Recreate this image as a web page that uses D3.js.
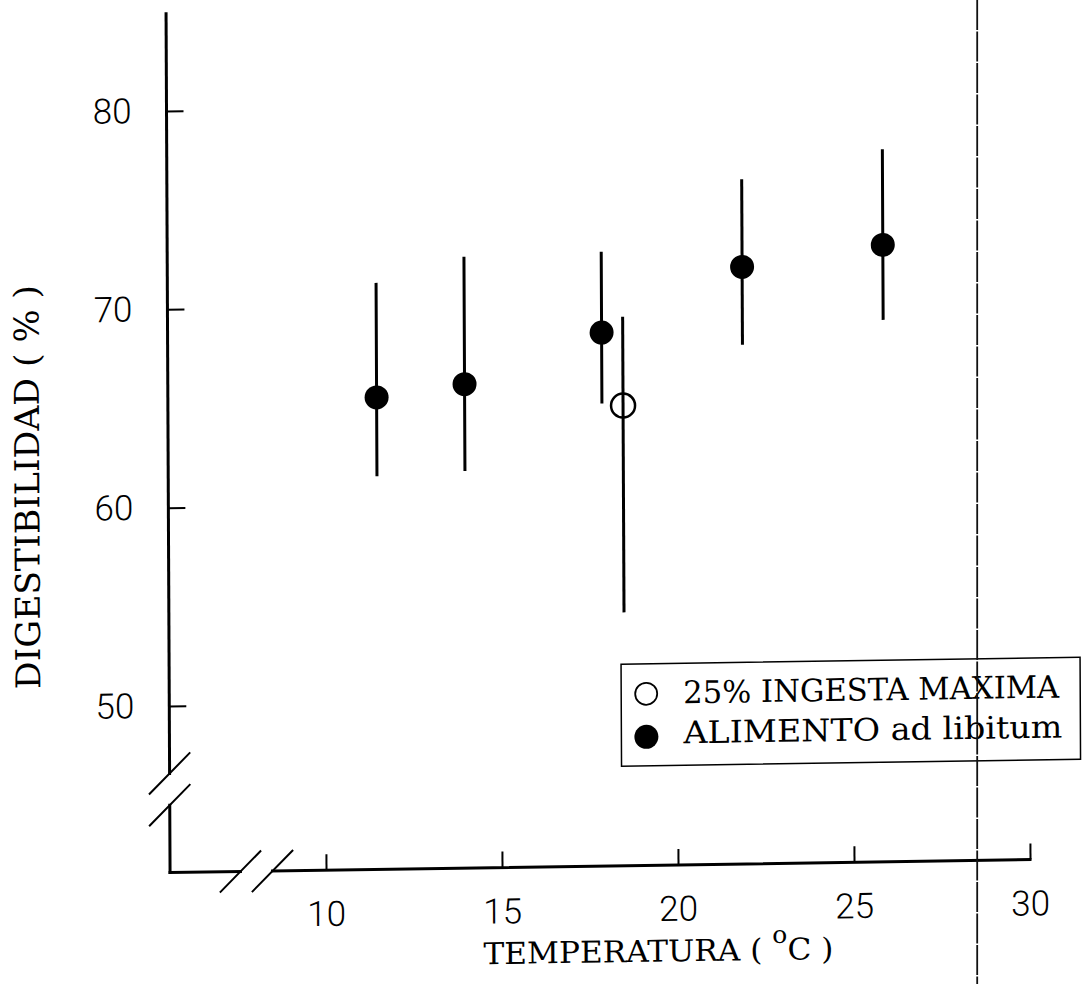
<!DOCTYPE html>
<html>
<head>
<meta charset="utf-8">
<script src="https://cdn.jsdelivr.net/npm/d3@7"></script>
<style>
  html, body { margin: 0; padding: 0; background: #fff; }
  svg { display: block; }
</style>
</head>
<body>
<svg id="chart" width="1082" height="984"></svg>
<script>
// --- data ---
const temps      = [11.5, 14.0, 17.9, 21.9, 25.9];
const adLib      = [65.4, 66.0, 68.5, 71.7, 72.7];
const adLibLow   = [61.5, 61.7, 65.0, 67.85, 69.0];
const adLibHigh  = [71.1, 72.35, 72.5, 76.05, 77.45];

const restrTemps = [18.5];
const restr      = [64.8];
const restrLow   = [54.45];
const restrHigh  = [69.2];

const xTicks = [10, 15, 20, 25, 30];
const yTicks = [50, 60, 70, 80];
const legendLabels = ["25% INGESTA MAXIMA", "ALIMENTO ad libitum"];

// axis extents (in data units) and break positions
const X_MIN = 5.57, X_MAX = 30;
const Y_MIN = 41.6, Y_MAX = 84.9;
const X_BREAK = [7.57, 8.48];
const Y_BREAK = [46.6, 45.0];
const FOLD_T = 28.5;   // vertical line crossing the page

const W = 1082, H = 984;
const PT_R = 12;
const AXIS_W = 3, BAR_W = 3, TICK_W = 2;
const NUM_FONT = "Roboto, 'Liberation Sans', sans-serif";
const SERIF = "'DejaVu Serif', 'Liberation Serif', serif";

const x = d3.scaleLinear().domain([10, 30]).range([326, 1030]);
const y = d3.scaleLinear().domain([50, 80]).range([706, 111]);

const svg = d3.select("#chart");
svg.append("rect").attr("width", W).attr("height", H).attr("fill", "#fff");

// the scan is slightly skewed; whole plot sits in a skewed group
const g = svg.append("g")
    .attr("transform", "matrix(1,-0.0151,0.00466,1,-4.07,2.57)");

function line(x1, y1, x2, y2, w) {
    g.append("line")
        .attr("x1", x1).attr("y1", y1)
        .attr("x2", x2).attr("y2", y2)
        .attr("stroke", "#000")
        .attr("stroke-width", w)
        .attr("stroke-linecap", "square");
}

// y axis, with break
const x0 = x(X_MIN), yb = y(Y_MIN);
line(x0, y(Y_MAX), x0, y(Y_BREAK[0]), AXIS_W);
line(x0, y(Y_BREAK[1]), x0, yb, AXIS_W);
Y_BREAK.forEach(v => line(x0 - 20, y(v) + 20, x0 + 20, y(v) - 20, 2));

// x axis, with break
line(x0, yb, x(X_BREAK[0]), yb, AXIS_W);
line(x(X_BREAK[1]), yb, x(X_MAX), yb, AXIS_W);
X_BREAK.forEach(v => line(x(v) - 20, yb + 20, x(v) + 20, yb - 20, 2));

// ticks + labels via d3 axes (domain path removed)
const yAxis = g.append("g")
    .attr("transform", `translate(${x0},0)`)
    .call(d3.axisLeft(y).tickValues(yTicks).tickSize(-17).tickPadding(35));
const xAxis = g.append("g")
    .attr("transform", `translate(0,${yb})`)
    .call(d3.axisBottom(x).tickValues(xTicks).tickSize(-16).tickPadding(31));

[yAxis, xAxis].forEach(a => {
    a.select(".domain").remove();
    a.selectAll(".tick line").attr("stroke", "#000").attr("stroke-width", TICK_W);
    a.selectAll(".tick text")
        .attr("fill", "#000")
        .attr("font-family", NUM_FONT)
        .attr("font-weight", 300)
        .attr("font-size", 35);
});

// error bars
temps.forEach((t, i) => line(x(t), y(adLibLow[i]), x(t), y(adLibHigh[i]), BAR_W));
restrTemps.forEach((t, i) => line(x(t), y(restrLow[i]), x(t), y(restrHigh[i]), BAR_W));

// points
g.selectAll("circle.adlib")
    .data(temps)
    .join("circle")
    .attr("class", "adlib")
    .attr("cx", d => x(d))
    .attr("cy", (d, i) => y(adLib[i]))
    .attr("r", PT_R)
    .attr("fill", "#000");

g.selectAll("circle.restr")
    .data(restrTemps)
    .join("circle")
    .attr("class", "restr")
    .attr("cx", d => x(d))
    .attr("cy", (d, i) => y(restr[i]))
    .attr("r", PT_R)
    .attr("fill", "none")
    .attr("stroke", "#000")
    .attr("stroke-width", 2.5);

// axis titles
g.append("text")
    .attr("transform", `translate(41,485) rotate(-90)`)
    .attr("text-anchor", "middle")
    .attr("font-family", SERIF)
    .attr("font-size", 34)
    .attr("textLength", 404)
    .attr("lengthAdjust", "spacingAndGlyphs")
    .text("DIGESTIBILIDAD ( % )");

const xt = g.append("text")
    .attr("x", 483)
    .attr("y", 969)
    .attr("font-family", SERIF)
    .attr("font-size", 30)
    .attr("textLength", 350)
    .attr("lengthAdjust", "spacingAndGlyphs");
xt.append("tspan").text("TEMPERATURA ( ");
xt.append("tspan").attr("font-size", 24).attr("dy", -17).text("o");
xt.append("tspan").attr("dy", 17).text("C )");

// legend
const lg = g.append("g");
lg.append("rect")
    .attr("x", 622).attr("y", 671)
    .attr("width", 459).attr("height", 102)
    .attr("fill", "none")
    .attr("stroke", "#000")
    .attr("stroke-width", 1.5);
lg.append("circle")
    .attr("cx", 647).attr("cy", 701).attr("r", 11)
    .attr("fill", "none").attr("stroke", "#000").attr("stroke-width", 1.8);
lg.append("circle")
    .attr("cx", 647).attr("cy", 744).attr("r", 12)
    .attr("fill", "#000");
const legendW = [376, 379];
legendLabels.forEach((s, i) => {
    lg.append("text")
        .attr("x", 684)
        .attr("y", 711 + i * 40)
        .attr("font-family", SERIF)
        .attr("font-size", 31)
        .attr("textLength", legendW[i])
        .attr("lengthAdjust", "spacingAndGlyphs")
        .text(s);
});

// vertical line crossing the page (outside the skewed group)
svg.append("line")
    .attr("x1", x(FOLD_T)).attr("x2", x(FOLD_T))
    .attr("y1", 0).attr("y2", H)
    .attr("stroke", "#111")
    .attr("stroke-width", 1.8)
    .attr("stroke-dasharray", "30,1.5");
</script>
</body>
</html>
